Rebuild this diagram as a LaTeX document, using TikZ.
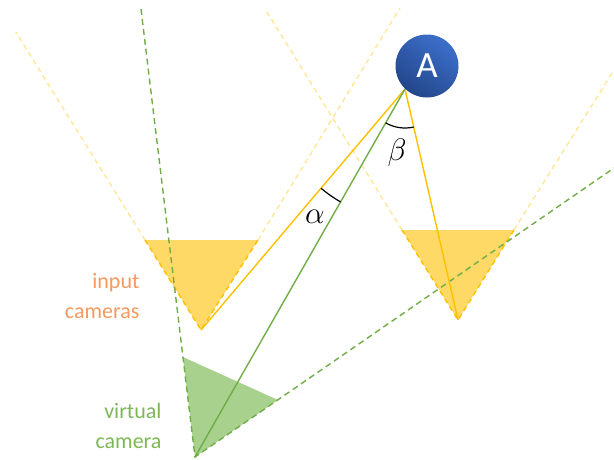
\documentclass[tikz,border=0pt]{standalone}
\usepackage{fontspec}
\setmainfont{Carlito}
\begin{document}
\begin{tikzpicture}[x=1pt,y=-1pt,
  faint/.style={draw=gold!40, line width=1.4pt, dash pattern=on 5pt off 4pt},
  camedge/.style={draw=gold, line width=1.4pt, dash pattern=on 5pt off 4pt},
  vedge/.style={draw=vgreen, line width=1.4pt, dash pattern=on 6pt off 4pt},
  ray/.style={draw=gold, line width=1.4pt},
  vray/.style={draw=vgreen, line width=1.4pt},
  anglearc/.style={draw=black, line width=1.2pt},
  anglelbl/.style={scale=1.5, font=\fontsize{20}{20}\selectfont},
  lbl/.style={font=\fontsize{22}{30}\selectfont, align=right, anchor=east}
]
\definecolor{gold}{HTML}{FFC000}
\definecolor{goldfill}{HTML}{FFD966}
\definecolor{vgreen}{HTML}{70AD47}
\definecolor{vgreenfill}{HTML}{A9D18E}
\definecolor{orangetxt}{HTML}{F29A5F}
\definecolor{greentxt}{HTML}{7DB856}
\definecolor{blueA}{HTML}{3C6FCB}
\definecolor{blueB}{HTML}{23468A}
\useasboundingbox (0,0) rectangle (614,459);

% key points
\coordinate (L) at (201,330);
\coordinate (R) at (458,320);
\coordinate (V) at (195,457);
\coordinate (P) at (405,89);
\coordinate (Lfar1) at (15.7,31.7);
\coordinate (Lfar2) at (400,8);
\coordinate (Rfar1) at (267,12);
\coordinate (Rfar2) at (614,70);
\coordinate (Vfar1) at (141,9);
\coordinate (Vfar2) at (614,168);
\coordinate (Ltl) at (145,240);
\coordinate (Ltr) at (258,240);
\coordinate (Rtl) at (402,230);
\coordinate (Rtr) at (514,230);
\coordinate (Vt1) at (182.9,357);
\coordinate (Vt2) at (278,400);

% faint field-of-view extensions
\path[faint] (Ltl) -- (Lfar1);
\path[faint] (Ltr) -- (Lfar2);
\path[faint] (Rtl) -- (Rfar1);
\path[faint] (Rtr) -- (Rfar2);

% fills
\fill[goldfill] (L) -- (Ltl) -- (Ltr) -- cycle;
\fill[goldfill] (R) -- (Rtl) -- (Rtr) -- cycle;
\fill[vgreenfill] (V) -- (Vt1) -- (Vt2) -- cycle;

% camera edges
\path[camedge] (Ltl) -- (L) -- (Ltr);
\path[camedge] (Rtl) -- (R) -- (Rtr);
\path[vedge] (Vfar1) -- (V) -- (Vfar2);

% rays
\path[ray] (P) -- (L);
\path[ray] (P) -- (R);
\path[vray] (P) -- (V);

% angles
\draw[anglearc] ([shift={(119.7:130)}]P) arc[start angle=119.7, end angle=130.25, radius=130];
\draw[anglearc] ([shift={(77.1:39)}]P) arc[start angle=77.1, end angle=119.7, radius=39];
\node[anglelbl] (alpha) at (315,217) {$\alpha$};
\node[anglelbl] (beta) at (397,153) {$\beta$};

% point A
\node[circle, minimum size=63pt, inner sep=0pt, shading=axis, top color=blueA, bottom color=blueB, shading angle=-35,
      text=white, font=\fontsize{37}{37}\selectfont] (A) at (427,66) {A};

% labels
\node[lbl, text=orangetxt] (inp) at (143,296) {input\\cameras};
\node[lbl, text=greentxt] (virt) at (165,426) {virtual\\camera};
\end{tikzpicture}
\end{document}
